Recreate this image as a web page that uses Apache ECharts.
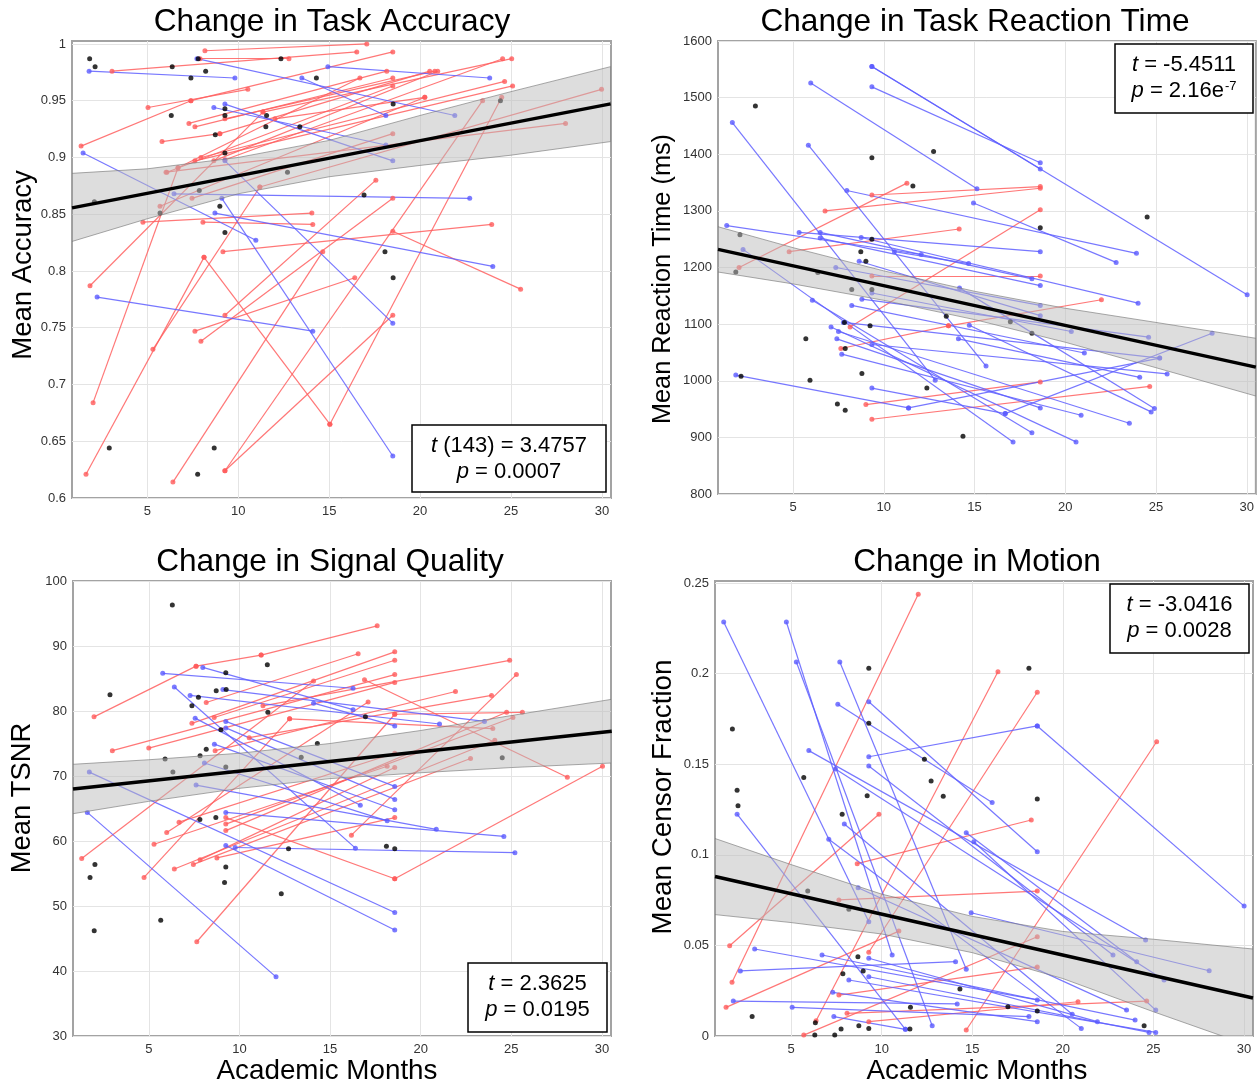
<!DOCTYPE html>
<html><head><meta charset="utf-8">
<script src="https://cdn.jsdelivr.net/npm/echarts@6/dist/echarts.min.js"></script>
<style>html,body{margin:0;padding:0;background:#fff}#c{width:1257px;height:1087px}</style>
</head><body><div id="c"></div>
<script>
// ---------- shared ticks ----------
const xTicks = [5, 10, 15, 20, 25, 30];

// ---------- Panel 1: Task Accuracy ----------
const accTicks = [0.6, 0.65, 0.7, 0.75, 0.8, 0.85, 0.9, 0.95, 1];
const accRed = [
  [8.17,0.994,17.07,1.000],[7.90,0.987,12.79,0.987],[3.06,0.976,16.52,0.993],[7.40,0.950,18.50,0.993],
  [5.04,0.944,10.53,0.960],[1.36,0.910,7.40,0.950],[7.29,0.930,18.17,0.976],[7.62,0.927,18.50,0.970],
  [5.81,0.914,8.99,0.921],[8.99,0.921,20.53,0.976],[9.27,0.934,20.81,0.976],[8.66,0.897,20.97,0.976],
  [9.27,0.898,24.54,0.987],[11.36,0.940,25.04,0.987],[7.95,0.900,24.65,0.967],[7.62,0.897,25.09,0.963],
  [6.69,0.891,16.69,0.970],[6.08,0.887,18.50,0.963],[12.02,0.934,20.26,0.953],[5.70,0.857,20.26,0.953],
  [7.46,0.864,18.50,0.921],[1.85,0.787,11.36,0.940],[2.02,0.684,6.69,0.891],[1.63,0.621,8.12,0.812],
  [8.12,0.812,15.04,0.665],[15.04,0.665,24.49,0.953],[9.27,0.624,23.44,0.950],[5.31,0.731,11.19,0.874],
  [11.19,0.874,29.98,0.960],[7.62,0.747,16.41,0.794],[7.95,0.738,18.50,0.864],[9.27,0.761,17.57,0.880],
  [6.41,0.614,14.65,0.817],[9.27,0.624,18.50,0.761],[4.76,0.843,14.05,0.851],[8.06,0.843,14.10,0.841],
  [18.50,0.835,25.53,0.784],[9.16,0.817,23.94,0.841],[6.03,0.887,28.0,0.930]
];
const accBlue = [
  [1.80,0.976,9.82,0.970],[7.73,0.987,21.91,0.937],[14.93,0.980,23.83,0.970],[13.50,0.970,18.12,0.937],
  [8.66,0.944,18.12,0.911],[9.27,0.947,18.50,0.897],[1.47,0.904,10.97,0.827],[6.47,0.868,22.73,0.864],
  [8.72,0.851,24.0,0.804],[9.27,0.897,18.50,0.754],[9.10,0.864,18.50,0.637],[2.24,0.777,14.10,0.747]
];
const accSingle = [
  [1.83,0.987],[2.13,0.980],[6.37,0.980],[7.40,0.970],[7.80,0.987],[8.21,0.976],[12.35,0.987],[14.3,0.970],
  [6.32,0.937],[9.27,0.943],[9.27,0.937],[11.56,0.937],[11.52,0.927],[8.74,0.920],[9.27,0.904],[13.39,0.927],
  [12.71,0.887],[7.86,0.871],[5.70,0.851],[2.09,0.861],[8.99,0.857],[9.27,0.834],[18.52,0.947],[24.42,0.950],
  [16.92,0.867],[18.07,0.817],[18.52,0.794],[2.91,0.644],[8.68,0.644],[7.77,0.621]
];
const accFit = [[0.86,0.8556],[30.48,0.9472]];
const accBandX = [0.86, 5, 10, 15, 20, 25, 30.48];
const accUpper = [0.886, 0.890, 0.900, 0.915, 0.937, 0.958, 0.980];
const accLower = [0.826, 0.846, 0.868, 0.883, 0.893, 0.902, 0.914];

// ---------- Panel 2: Reaction Time ----------
const rtTicks = [800, 900, 1000, 1100, 1200, 1300, 1400, 1500, 1600];
const rtRed = [
  [6.76,1300,18.62,1340],[9.34,1328,18.62,1343],[4.78,1228,14.15,1268],[2.02,1200,11.27,1349],
  [8.14,1095,18.62,1302],[9.34,1185,18.62,1185],[7.63,1057,13.56,1097],[13.56,1097,21.99,1143],
  [9.01,958,18.62,998],[9.34,932,24.65,990]
];
const rtBlue = [
  [9.34,1555,30.02,1152],[9.34,1555,18.62,1374],[9.34,1519,18.62,1385],[5.97,1526,15.13,1339],
  [1.65,1456,12.83,1001],[5.84,1416,15.63,1026],[7.96,1336,23.92,1225],[14.94,1314,22.80,1209],
  [1.34,1274,12.06,1223],[5.33,1262,18.62,1228],[6.49,1262,18.16,1180],[6.49,1252,18.62,1168],
  [8.75,1253,24.01,1137],[2.24,1232,17.12,892],[7.35,1200,18.62,1133],[8.64,1211,18.62,1115],
  [10.58,1228,14.67,1207],[9.34,1155,20.33,1087],[8.79,1144,24.59,1077],[6.06,1142,18.16,908],
  [8.23,1133,21.05,1049],[7.77,1103,25.20,1040],[7.09,1095,20.59,892],[7.50,1087,23.53,925],
  [7.41,1074,18.62,952],[9.34,1064,25.61,1012],[7.68,1047,20.87,939],[1.84,1010,11.36,952],
  [9.34,987,16.69,942],[14.71,1098,24.73,945],[14.17,1164,24.91,951],[14.11,1074,24.10,1006],
  [16.69,942,28.09,1084],[11.36,952,25.20,1040]
];
const rtSingle = [
  [2.92,1485],[12.74,1405],[9.34,1394],[11.60,1344],[9.34,1250],[8.73,1228],[9.01,1211],[2.07,1258],
  [1.84,1192],[6.36,1191],[8.23,1161],[9.34,1161],[13.44,1114],[9.24,1097],[7.83,1103],[5.70,1074],
  [7.87,1057],[5.93,1001],[8.79,1013],[2.13,1008],[7.44,959],[7.87,948],[12.37,987],[14.36,902],
  [18.62,1270],[16.97,1104],[18.16,1084],[24.51,1289]
];
const rtFit = [[0.86,1232],[30.5,1024]];
const rtBandX = [0.86, 5, 10, 15, 20, 25, 30.5];
const rtUpper = [1272, 1235, 1194, 1158, 1128, 1103, 1075];
const rtLower = [1192, 1171, 1142, 1108, 1068, 1023, 973];

// ---------- Panel 3: Signal Quality (TSNR) ----------
const snrTicks = [30, 40, 50, 60, 70, 80, 90, 100];
const snrRed = [
  [1.98,79.1,7.61,86.9],[7.61,86.9,11.20,88.6],[11.20,88.6,17.60,93.1],[1.30,57.3,14.09,84.6],
  [4.74,54.4,12.77,78.8],[7.65,44.5,18.57,79.5],[5.99,61.3,17.10,81.4],[6.41,55.7,24.09,75.5],
  [7.46,56.4,22.75,72.7],[7.83,57.1,18.57,71.3],[8.76,57.4,18.57,63.6],[9.25,63.6,18.57,54.2],
  [18.57,54.2,30.03,71.5],[9.25,62.6,25.09,79.0],[9.25,61.6,24.74,79.8],[6.67,62.9,18.57,73.5],
  [5.29,59.5,18.15,71.5],[2.99,73.9,18.57,85.6],[5.0,74.3,18.57,84.4],[8.61,79.0,18.57,87.8],
  [8.17,81.3,16.55,88.8],[7.38,78.1,18.57,89.1],[8.66,73.9,21.92,83.0],[10.54,75.9,23.91,82.4],
  [11.30,80.8,24.91,87.8],[12.77,78.8,23.98,77.3],[16.18,60.9,25.28,85.6],[18.57,79.5,25.61,79.8],
  [16.90,84.8,28.09,69.8]
];
const snrBlue = [
  [5.77,85.8,16.27,83.5],[7.98,86.7,16.27,80.2],[6.41,83.7,16.40,58.9],[7.28,82.4,21.04,78.0],
  [9.09,83.3,23.52,78.4],[7.56,78.9,16.67,65.5],[9.25,78.4,18.57,68.4],[9.25,77.4,18.57,66.4],
  [8.62,74.9,18.57,64.8],[8.07,72.0,18.15,63.1],[7.61,68.6,20.86,61.8],[1.72,70.6,18.57,49.0],
  [1.61,64.4,12.02,39.1],[9.25,64.4,24.59,60.7],[9.25,59.3,18.57,46.3],[9.77,59.0,25.20,58.2],
  [14.09,81.2,18.57,77.7]
];
const snrSingle = [
  [6.30,96.3],[2.86,82.5],[11.54,87.1],[9.25,85.9],[8.72,83.1],[9.27,83.3],[7.74,82.1],[7.38,80.8],
  [11.57,79.8],[8.98,77.1],[8.17,74.1],[7.83,73.1],[5.90,72.6],[6.33,70.6],[9.25,71.4],[14.30,75.0],
  [13.41,72.9],[7.82,63.3],[8.70,63.6],[12.71,58.8],[2.03,56.4],[1.76,54.4],[9.25,56.0],[9.18,53.6],
  [12.31,51.9],[5.66,47.8],[1.99,46.2],[16.95,79.1],[24.50,72.8],[18.11,59.2],[18.57,58.8]
];
const snrFit = [[0.82,68.0],[30.54,76.9]];
const snrBandX = [0.82, 5, 10, 15, 20, 25, 30.54];
const snrUpper = [71.8, 72.5, 73.5, 75.0, 77.0, 79.3, 81.8];
const snrLower = [64.2, 66.1, 68.1, 69.6, 70.5, 71.3, 72.0];

// ---------- Panel 4: Motion (censor fraction) ----------
const motTicks = [0, 0.05, 0.1, 0.15, 0.2, 0.25];
const motRed = [
  [1.74,0.0296,12.02,0.2438],[1.61,0.0498,9.85,0.1224],[1.41,0.0158,10.95,0.0579],[8.65,0.0951,18.26,0.1192],
  [6.38,0.0084,16.42,0.2010],[9.29,0.0462,18.59,0.1897],[14.67,0.0033,25.18,0.1624],[7.64,0.0751,18.59,0.0800],
  [7.64,0.0226,18.59,0.0381],[8.09,0.0125,24.63,0.0193],[9.29,0.0079,20.84,0.0189],[5.70,0.0005,18.59,0.0548]
];
const motBlue = [
  [1.28,0.2285,9.29,0.0631],[4.74,0.2285,10.58,0.0447],[5.29,0.2064,12.79,0.0057],[7.69,0.2064,14.67,0.0368],
  [9.29,0.1845,18.59,0.1017],[7.58,0.1831,16.10,0.1288],[5.98,0.1575,24.57,0.0530],[9.29,0.1541,18.59,0.1711],
  [18.59,0.1711,30.01,0.0717],[9.29,0.1490,22.77,0.0447],[7.45,0.1474,25.59,0.0309],[2.02,0.1224,11.31,0.0037],
  [7.94,0.1170,20.52,0.0120],[7.08,0.1086,21.02,0.0042],[8.70,0.0818,23.52,0.0143],[14.67,0.1122,24.08,0.0410],
  [15.09,0.1072,25.13,0.0143],[14.94,0.0680,28.08,0.0360],[2.99,0.0480,18.59,0.0199],[2.20,0.0359,14.08,0.0410],
  [6.71,0.0447,23.99,0.0088],[9.29,0.0429,21.91,0.0079],[8.19,0.0309,25.13,0.0020],[9.29,0.0327,24.76,0.0020],
  [7.30,0.0241,18.59,0.0079],[1.81,0.0193,14.17,0.0177],[5.06,0.0158,18.13,0.0107],[7.36,0.0107,11.31,0.0037]
];
const motSingle = [
  [9.29,0.2029],[1.76,0.1694],[2.02,0.1356],[2.07,0.1271],[9.29,0.1726],[12.36,0.1527],[5.70,0.1426],[12.73,0.1407],
  [13.40,0.1323],[9.20,0.1326],[7.82,0.1224],[5.92,0.0800],[8.19,0.0699],[8.69,0.0438],[8.98,0.0359],[7.86,0.0344],
  [14.32,0.0259],[2.85,0.0107],[11.59,0.0158],[6.34,0.0073],[8.74,0.0057],[9.29,0.0042],[7.76,0.0039],[11.56,0.0039],
  [6.31,0.0005],[7.41,0.0005],[18.13,0.2029],[18.59,0.1308],[16.97,0.0162],[18.59,0.0138],[24.49,0.0057]
];
const motFit = [[0.80,0.0880],[30.5,0.0210]];
const motBandX = [0.80, 5, 10, 15, 20, 25, 30.5];
const motUpper = [0.109, 0.0946, 0.0783, 0.066, 0.0577, 0.0534, 0.048];
const motLower = [0.067, 0.0626, 0.0563, 0.046, 0.0317, 0.0134, -0.006];

// ---------- styling ----------
const FONT = "'Liberation Sans', Arial, Helvetica, sans-serif";
const RED_LINE = 'rgba(255,95,95,0.85)', RED_DOT = '#ff5a5a';
const BLUE_LINE = 'rgba(95,95,255,0.85)', BLUE_DOT = '#5a5aff';

const panels = [
  {red: accRed, blue: accBlue, single: accSingle, fit: accFit, bx: accBandX, up: accUpper, lo: accLower,
   ticks: accTicks, grid: {left: 72, top: 41, width: 539, height: 457}, xMin: 0.86, yMin: 0.6, yMax: 1.0026},
  {red: rtRed, blue: rtBlue, single: rtSingle, fit: rtFit, bx: rtBandX, up: rtUpper, lo: rtLower,
   ticks: rtTicks, grid: {left: 718, top: 41, width: 538, height: 453}, xMin: 0.86, yMin: 800, yMax: 1600},
  {red: snrRed, blue: snrBlue, single: snrSingle, fit: snrFit, bx: snrBandX, up: snrUpper, lo: snrLower,
   ticks: snrTicks, grid: {left: 73, top: 581, width: 538, height: 455}, xMin: 0.82, yMin: 30, yMax: 100},
  {red: motRed, blue: motBlue, single: motSingle, fit: motFit, bx: motBandX, up: motUpper, lo: motLower,
   ticks: motTicks, grid: {left: 715, top: 581, width: 538, height: 455}, xMin: 0.80, yMin: 0, yMax: 0.2511}
];

const grids = [], xAxes = [], yAxes = [], series = [];
panels.forEach((p, i) => {
  grids.push(Object.assign({show: true, borderColor: '#a3a3a3', borderWidth: 2, backgroundColor: '#fff', containLabel: false}, p.grid));
  xAxes.push({
    type: 'value', gridIndex: i, min: p.xMin, max: 30.5,
    axisLine: {show: false}, axisTick: {show: false, customValues: xTicks},
    axisLabel: {customValues: xTicks, fontSize: 13, color: '#333', fontFamily: FONT, margin: 7},
    splitLine: {show: true, lineStyle: {color: '#e4e4e4', width: 1}}
  });
  yAxes.push({
    type: 'value', gridIndex: i, min: p.yMin, max: p.yMax,
    axisLine: {show: false}, axisTick: {show: false, customValues: p.ticks},
    axisLabel: {customValues: p.ticks, fontSize: 13, color: '#333', fontFamily: FONT, margin: 6,
      formatter: v => String(parseFloat(Number(v).toFixed(3)))},
    splitLine: {show: true, lineStyle: {color: '#e4e4e4', width: 1}}
  });
  const segs = (arr, lc, dc, z) => {
    series.push({
      type: 'lines', coordinateSystem: 'cartesian2d', xAxisIndex: i, yAxisIndex: i, z: z, silent: true,
      lineStyle: {color: lc, width: 1.2, opacity: 1},
      data: arr.map(s => ({coords: [[s[0], s[1]], [s[2], s[3]]]}))
    });
    series.push({
      type: 'scatter', xAxisIndex: i, yAxisIndex: i, z: z + 1, silent: true, symbolSize: 5,
      itemStyle: {color: dc},
      data: arr.flatMap(s => [[s[0], s[1]], [s[2], s[3]]])
    });
  };
  segs(p.red, RED_LINE, RED_DOT, 2);
  segs(p.blue, BLUE_LINE, BLUE_DOT, 2);
  series.push({
    type: 'scatter', xAxisIndex: i, yAxisIndex: i, z: 4, silent: true, symbolSize: 5,
    itemStyle: {color: '#000'}, data: p.single
  });
  series.push({
    type: 'custom', xAxisIndex: i, yAxisIndex: i, z: 5, silent: true, clip: true,
    data: p.bx.map((x, k) => [x, p.up[k], p.lo[k]]), encode: {x: 0, y: [1, 2]},
    renderItem: (params, api) => {
      if (params.dataIndex !== 0) return null;
      const pts = [];
      p.bx.forEach((x, k) => pts.push(api.coord([x, p.up[k]])));
      for (let k = p.bx.length - 1; k >= 0; k--) pts.push(api.coord([p.bx[k], p.lo[k]]));
      return {type: 'polygon', shape: {points: pts},
        style: {fill: 'rgba(188,188,188,0.5)', stroke: 'rgba(120,120,120,0.8)', lineWidth: 0.8}};
    }
  });
  series.push({
    type: 'line', xAxisIndex: i, yAxisIndex: i, z: 6, silent: true, symbol: 'none',
    lineStyle: {color: '#000', width: 3.5}, data: p.fit
  });
});

// ---------- text graphics ----------
const titles = [
  ['Change in Task Accuracy', 332, 22], ['Change in Task Reaction Time', 975, 22],
  ['Change in Signal Quality', 330, 562], ['Change in Motion', 977, 562]
];
const yNames = [
  ['Mean Accuracy', 23, 265, 27.5], ['Mean Reaction Time (ms)', 663, 279, 25.3],
  ['Mean TSNR', 22, 798, 27.4], ['Mean Censor Fraction', 663, 797, 27.8]
];
const xNames = [['Academic Months', 327, 1071], ['Academic Months', 977, 1071]];
const boxes = [
  {x: 412, y: 425, w: 194, h: 67, l1: '{i|t} (143) = 3.4757', l2: '{i|p} = 0.0007'},
  {x: 1115, y: 44, w: 138, h: 69, l1: '{i|t} = -5.4511', l2: '{i|p} = 2.16e{s|-7}'},
  {x: 468, y: 963, w: 139, h: 69, l1: '{i|t} = 2.3625', l2: '{i|p} = 0.0195'},
  {x: 1110, y: 584, w: 139, h: 69, l1: '{i|t} = -3.0416', l2: '{i|p} = 0.0028'}
];
const rich = {i: {fontStyle: 'italic', fontSize: 22, fontFamily: FONT, color: '#000'},
              s: {fontSize: 13, fontFamily: FONT, color: '#000', verticalAlign: 'top', padding: [0, 0, 8, 1]}};
const graphic = [];
titles.forEach(t => graphic.push({type: 'text', x: t[1], y: t[2], z: 100,
  style: {text: t[0], fontSize: 31.6, fontFamily: FONT, fill: '#000', align: 'center', verticalAlign: 'middle'}}));
yNames.forEach(t => graphic.push({type: 'text', x: t[1], y: t[2], z: 100, rotation: Math.PI / 2,
  style: {text: t[0], fontSize: t[3], fontFamily: FONT, fill: '#000', align: 'center', verticalAlign: 'middle'}}));
xNames.forEach(t => graphic.push({type: 'text', x: t[1], y: t[2], z: 100,
  style: {text: t[0], fontSize: 27.8, fontFamily: FONT, fill: '#000', align: 'center', verticalAlign: 'middle'}}));
boxes.forEach(b => {
  graphic.push({type: 'rect', z: 100, shape: {x: b.x, y: b.y, width: b.w, height: b.h},
    style: {fill: '#fff', stroke: '#000', lineWidth: 1.5}});
  graphic.push({type: 'text', z: 101, x: b.x + b.w / 2, y: b.y + 21,
    style: {text: b.l1, rich: rich, fontSize: 22, fontFamily: FONT, fill: '#000', align: 'center', verticalAlign: 'middle'}});
  graphic.push({type: 'text', z: 101, x: b.x + b.w / 2, y: b.y + 47,
    style: {text: b.l2, rich: rich, fontSize: 22, fontFamily: FONT, fill: '#000', align: 'center', verticalAlign: 'middle'}});
});

const chart = echarts.init(document.getElementById('c'), null, {renderer: 'canvas'});
chart.setOption({
  animation: false, backgroundColor: '#fff',
  grid: grids, xAxis: xAxes, yAxis: yAxes, series: series, graphic: graphic
});
</script></body></html>
